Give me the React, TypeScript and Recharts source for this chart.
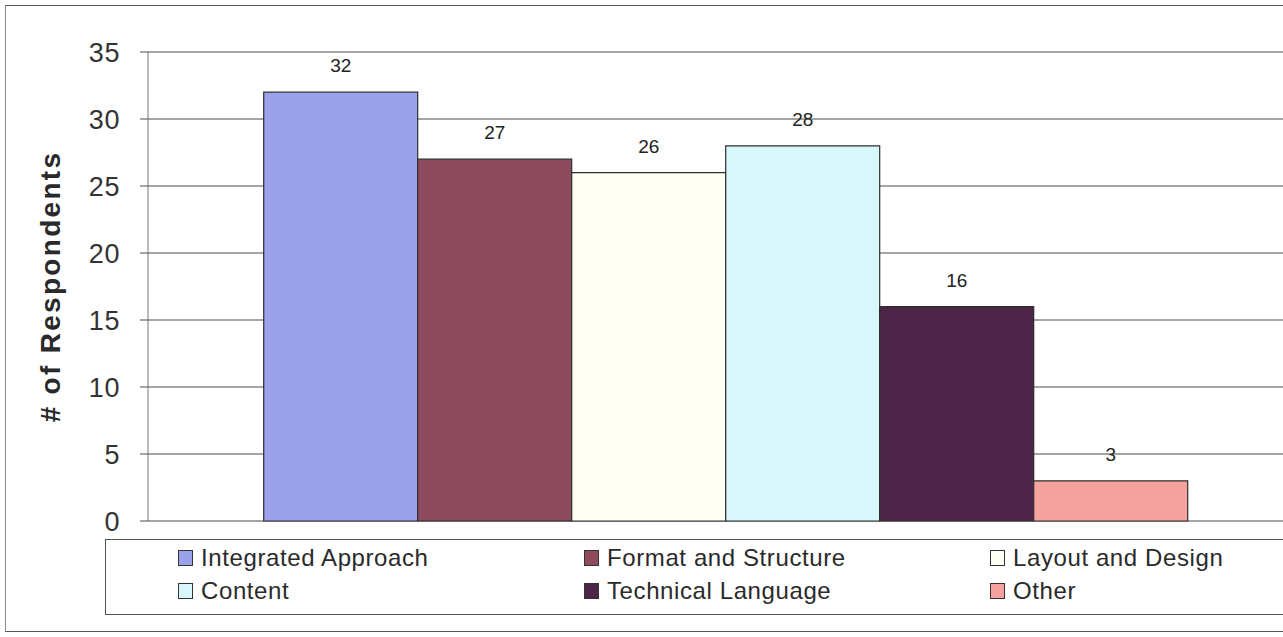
import React from 'react';
import { BarChart, Bar, XAxis, YAxis, CartesianGrid, LabelList, Label } from 'recharts';

// Survey responses: one group of bars, one bar per preferred aspect.
const seriesKeys = ['integrated', 'format', 'layout', 'content', 'technical', 'other'];
const seriesNames = [
  'Integrated Approach',
  'Format and Structure',
  'Layout and Design',
  'Content',
  'Technical Language',
  'Other',
];
const seriesValues = [32, 27, 26, 28, 16, 3];
const yTicks = [0, 5, 10, 15, 20, 25, 30, 35];
const axisTitle = '# of Respondents';

const seriesColors = ['#9BA1EA', '#8F4B5E', '#FFFFF6', '#D8F7FA', '#4D2549', '#F6A3A0'];

const data = [
  seriesKeys.reduce<Record<string, number | string>>(
    (row, key, i) => {
      row[key] = seriesValues[i];
      return row;
    },
    { category: 'Responses' }
  ),
];

const FONT = '"Liberation Sans", Arial, sans-serif';

const YTitle = (props: any) => {
  const vb = props.viewBox || { x: 0, y: 0, width: 0, height: 0 };
  const cx = vb.x + 50;
  const cy = vb.y + vb.height / 2;
  return (
    <text
      x={cx}
      y={cy}
      transform={`rotate(-90 ${cx} ${cy})`}
      textAnchor="middle"
      dominantBaseline="central"
      fontFamily={FONT}
      fontWeight="bold"
      fontSize={28}
      letterSpacing={2.3}
      fill="#2a2a2a"
    >
      {axisTitle}
    </text>
  );
};

// Three-column legend box below the plot, in series order.
const LegendBox = () => (
  <div
    style={{
      position: 'absolute',
      left: 105,
      top: 539,
      width: 1220,
      height: 76,
      border: '1px solid #555',
      boxSizing: 'border-box',
      background: '#fff',
      fontFamily: FONT,
      fontSize: 24,
      letterSpacing: 0.6,
      color: '#2a2a2a',
    }}
  >
    {seriesNames.map((name, i) => {
      const col = i % 3;
      const row = Math.floor(i / 3);
      return (
        <div
          key={name}
          style={{
            position: 'absolute',
            left: 72 + col * 406,
            top: 3 + row * 33,
            height: 30,
            display: 'flex',
            alignItems: 'center',
            whiteSpace: 'nowrap',
          }}
        >
          <span
            style={{
              display: 'inline-block',
              width: 15,
              height: 16,
              background: seriesColors[i],
              border: '1px solid #333',
              marginRight: 8,
              boxSizing: 'border-box',
            }}
          />
          <span>{name}</span>
        </div>
      );
    })}
  </div>
);

export default function App() {
  return (
    <div
      style={{
        position: 'absolute',
        left: 0,
        top: 0,
        width: 1283,
        height: 637,
        overflow: 'hidden',
        background: '#fff',
      }}
    >
      <div
        style={{
          position: 'absolute',
          left: 5,
          top: 5,
          width: 1300,
          height: 627,
          border: '1px solid #8a8a8a',
          borderTopColor: '#555',
          borderBottomColor: '#555',
          boxSizing: 'border-box',
        }}
      />
      <div style={{ position: 'absolute', left: 0, top: 0 }}>
        <BarChart
          width={1320}
          height={637}
          data={data}
          margin={{ top: 52, right: 15, bottom: 116, left: 0 }}
          barCategoryGap="10%"
          barGap={0}
        >
          <CartesianGrid vertical={false} stroke="#4a4a4a" strokeWidth={1.2} />
          <XAxis dataKey="category" hide />
          <YAxis
            width={148}
            domain={[0, 35]}
            ticks={yTicks}
            interval={0}
            tickSize={8}
            tickMargin={20}
            axisLine={{ stroke: '#777' }}
            tickLine={{ stroke: '#4a4a4a' }}
            tick={{ fontFamily: FONT, fontSize: 27, fill: '#333', letterSpacing: 0.6 }}
          >
            <Label content={<YTitle />} />
          </YAxis>
          {seriesKeys.map((key, i) => (
            <Bar
              key={key}
              dataKey={key}
              name={seriesNames[i]}
              fill={seriesColors[i]}
              stroke="#2e2e2e"
              strokeWidth={1.2}
              isAnimationActive={false}
            >
              <LabelList
                dataKey={key}
                position="top"
                offset={20}
                style={{ fontFamily: FONT, fontSize: 19, fill: '#222' }}
              />
            </Bar>
          ))}
        </BarChart>
      </div>
      <LegendBox />
    </div>
  );
}
